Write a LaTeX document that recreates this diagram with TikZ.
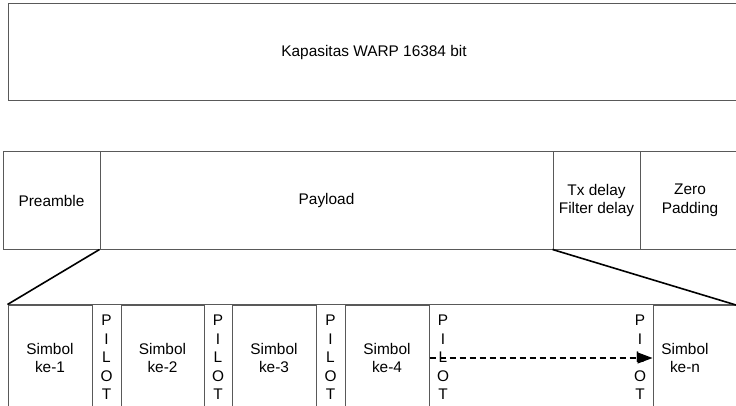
\documentclass[tikz,border=0pt]{standalone}
\usepackage{fontspec}
\setmainfont{Liberation Sans}
\usetikzlibrary{arrows.meta}
\begin{document}
\begin{tikzpicture}[x=1pt,y=-1pt,
  box/.style={draw=black!65, line width=1pt, rectangle, inner sep=0pt, align=center, font=\fontsize{15.4}{18.5}\selectfont},
  lbl/.style={inner sep=0pt, align=center, font=\fontsize{15.4}{18.5}\selectfont},
  zoomline/.style={draw=black, line width=1.6pt},
  rowline/.style={draw=black!65, line width=1pt},
  flow/.style={draw=black, line width=1.1pt, dash pattern=on 6pt off 4pt, -{Triangle[length=15pt,width=11pt]}}]
\useasboundingbox (0,0) rectangle (736,406);
\clip (0,0) rectangle (736,406);
% top capacity box
\node[box, minimum width=732pt, minimum height=97pt] (cap) at (374,52.5) {Kapasitas WARP 16384 bit};
% frame row
\node[box, minimum width=97pt, minimum height=97pt] (pre) at (51.5,200.5) {Preamble};
\node[box, minimum width=453pt, minimum height=97pt] (pay) at (326.5,200.5) {Payload};
\node[box, minimum width=87pt, minimum height=97pt] (tx) at (596.5,200.5) {Tx delay\\Filter delay};
\node[box, minimum width=100pt, minimum height=97pt] (zero) at (690,200.5) {Zero\\Padding};
% symbol row
\node[box, minimum width=84pt, minimum height=106pt] (s1) at (50,358) {Simbol\\ke-1};
\node[box, minimum width=83pt, minimum height=106pt] (s2) at (162.5,358) {Simbol\\ke-2};
\node[box, minimum width=84pt, minimum height=106pt] (s3) at (274,358) {Simbol\\ke-3};
\node[box, minimum width=84pt, minimum height=106pt] (s4) at (387,358) {Simbol\\ke-4};
\node[box, minimum width=87pt, minimum height=106pt] (sn) at (696.5,358) {};
\node[lbl] (sntext) at (685,358) {Simbol\\ke-n};
% pilots
\node[lbl] (p1) at (106.5,357.5) {P\\I\\L\\O\\T};
\node[lbl] (p2) at (218,357.5) {P\\I\\L\\O\\T};
\node[lbl] (p3) at (330.5,357.5) {P\\I\\L\\O\\T};
\node[lbl] (p4) at (443,357.5) {P\\I\\L\\O\\T};
\node[lbl] (p5) at (640,357.5) {P\\I\\L\\O\\T};
% top line of symbol row
\draw[rowline] (s1.north west) -- (sn.north east);
% zoom lines
\coordinate (rc) at (736,305);
\draw[zoomline] (pay.south west) -- (s1.north west);
\draw[zoomline] (tx.south west) -- (rc);
% dashed continuation arrow
\draw[flow] (s4.east) -- (sn.west);
\end{tikzpicture}
\end{document}
